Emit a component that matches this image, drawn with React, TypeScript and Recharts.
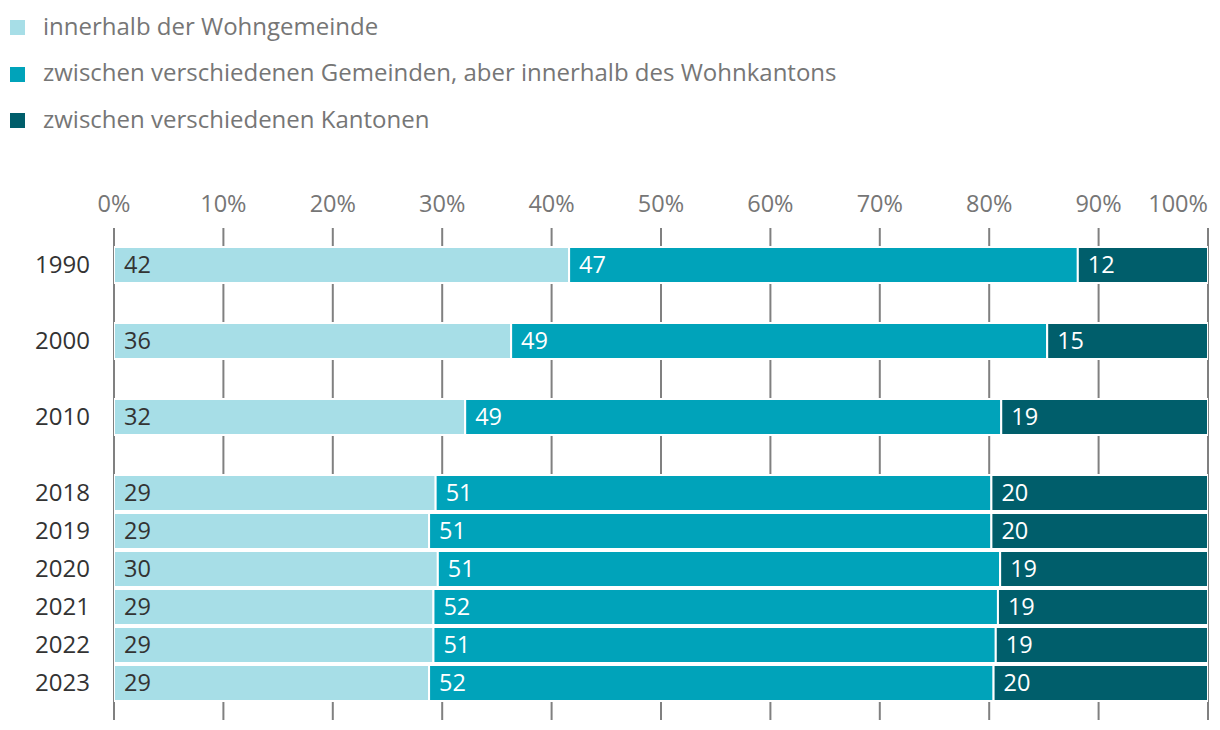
import React from "react";
import { BarChart, Bar, XAxis, YAxis, CartesianGrid, LabelList } from "recharts";

// empty strings / nulls are the spacer rows between the decades
const years = ["1990", "", "2000", "", "2010", "", "2018", "2019", "2020", "2021", "2022", "2023"];
const withinCommune = [41.6, null, 36.3, null, 32.1, null, 29.4, 28.8, 29.6, 29.2, 29.2, 28.8];
const betweenCommunes = [46.5, null, 49.0, null, 49.0, null, 50.8, 51.4, 51.4, 51.6, 51.4, 51.6];
const betweenCantons = [11.9, null, 14.7, null, 18.9, null, 19.8, 19.8, 19.0, 19.2, 19.4, 19.6];
const xTicks = [0, 10, 20, 30, 40, 50, 60, 70, 80, 90, 100];

const seriesNames = [
  "innerhalb der Wohngemeinde",
  "zwischen verschiedenen Gemeinden, aber innerhalb des Wohnkantons",
  "zwischen verschiedenen Kantonen",
];

const colors = ["#a7dee7", "#00a3ba", "#005e6b"];
const FONT = "'Open Sans', 'Noto Sans', sans-serif";

const data = years.map((year, i) => ({
  year,
  withinCommune: withinCommune[i],
  betweenCommunes: betweenCommunes[i],
  betweenCantons: betweenCantons[i],
}));

const fmt = (v: any) => (v == null ? "" : String(Math.round(Number(v))));

const XTick = (props: any) => {
  const { x, y, payload } = props;
  const last = payload.value === 100;
  return (
    <text
      x={x}
      y={y}
      textAnchor={last ? "end" : "middle"}
      fill="#767676"
      fontSize={23.5}
      fontFamily={FONT}
    >
      {payload.value}%
    </text>
  );
};

const YTick = (props: any) => {
  const { x, y, payload } = props;
  return (
    <text x={x} y={y} dy="0.35em" textAnchor="end" fill="#333" fontSize={24} fontFamily={FONT}>
      {payload.value}
    </text>
  );
};

const App = () => {
  return (
    <div style={{ position: "absolute", left: 0, top: 0, width: 1220, height: 730, background: "#fff" }}>
      <div style={{ position: "absolute", left: 10, top: 2, fontFamily: FONT }}>
        {seriesNames.map((name, i) => (
          <div key={name} style={{ display: "flex", alignItems: "center", height: 46.5 }}>
            <div style={{ width: 15, height: 15, background: colors[i], marginRight: 18, marginTop: 5 }} />
            <span style={{ fontSize: 24, color: "#767676" }}>{name}</span>
          </div>
        ))}
      </div>
      <BarChart
        width={1220}
        height={730}
        data={data}
        layout="vertical"
        margin={{ top: 198, right: 12, bottom: 10, left: 0 }}
        barSize={36}
      >
        <CartesianGrid horizontal={false} stroke="#808080" strokeWidth={2} />
        <XAxis
          type="number"
          orientation="top"
          domain={[0, 100]}
          allowDataOverflow
          ticks={xTicks}
          height={30}
          axisLine={false}
          tickLine={false}
          tickSize={0}
          tickMargin={16}
          tick={<XTick />}
        />
        <YAxis
          type="category"
          dataKey="year"
          width={114}
          axisLine={false}
          tickLine={false}
          tickSize={0}
          tickMargin={24}
          padding={{ top: 18, bottom: 18 }}
          interval={0}
          tick={<YTick />}
        />
        <Bar dataKey="withinCommune" stackId="a" fill={colors[0]} stroke="#fff" strokeWidth={2} isAnimationActive={false}>
          <LabelList dataKey="withinCommune" position="insideLeft" offset={10} formatter={fmt} fill="#333" fontSize={23.5} fontFamily={FONT} />
        </Bar>
        <Bar dataKey="betweenCommunes" stackId="a" fill={colors[1]} stroke="#fff" strokeWidth={2} isAnimationActive={false}>
          <LabelList dataKey="betweenCommunes" position="insideLeft" offset={10} formatter={fmt} fill="#fff" fontSize={23.5} fontFamily={FONT} />
        </Bar>
        <Bar dataKey="betweenCantons" stackId="a" fill={colors[2]} stroke="#fff" strokeWidth={2} isAnimationActive={false}>
          <LabelList dataKey="betweenCantons" position="insideLeft" offset={10} formatter={fmt} fill="#fff" fontSize={23.5} fontFamily={FONT} />
        </Bar>
      </BarChart>
    </div>
  );
};

export default App;
